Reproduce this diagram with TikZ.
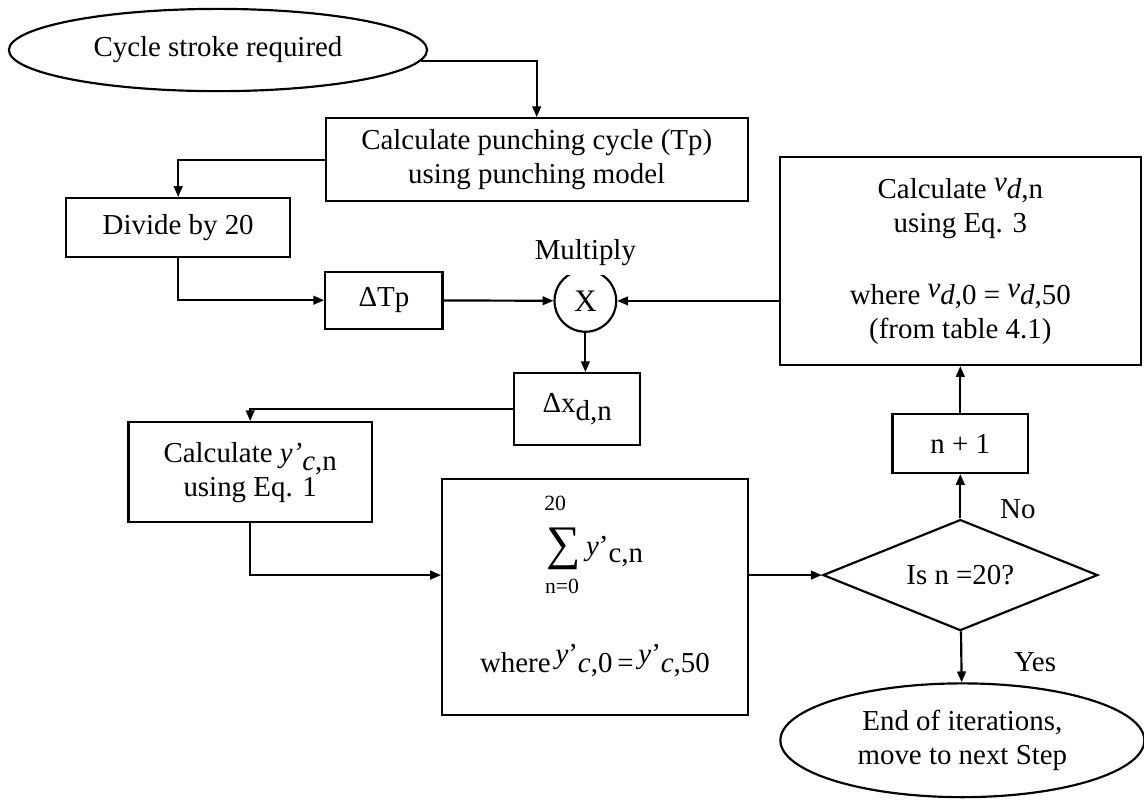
\documentclass[tikz,border=0pt]{standalone}
\usepackage{fontspec}
\setmainfont{Liberation Serif}
\usetikzlibrary{shapes.geometric,positioning,arrows.meta}

\begin{document}
\begin{tikzpicture}[
  procbox/.style={rectangle,draw,line width=0.9pt,font=\fontsize{12}{14}\selectfont,
                  align=center,inner sep=0pt},
  termbox/.style={ellipse,draw,line width=0.9pt,font=\fontsize{12}{14}\selectfont,
                  align=center,inner sep=0pt},
  decbox/.style={diamond,draw,line width=0.9pt,font=\fontsize{12}{14}\selectfont,
                 inner sep=0pt,aspect=2.5},
  opcircle/.style={circle,draw,line width=0.9pt,font=\fontsize{13}{14}\selectfont,
                   inner sep=0pt,minimum size=0.9cm},
  txt/.style={font=\fontsize{12}{14}\selectfont,align=center,inner sep=1pt},
  small/.style={font=\fontsize{9}{10}\selectfont,inner sep=1pt},
  arr/.style={-{Triangle[length=4.5pt,width=3.6pt]},line width=0.9pt},
]
\useasboundingbox (0,0) rectangle (16.69,-11.67);

% Start
\node[termbox,minimum width=6.10cm,minimum height=1.20cm] (start) at (3.18,-0.73)
  {Cycle stroke required};

% Punching cycle
\node[procbox,minimum width=6.16cm,minimum height=1.21cm] (punch) at (7.83,-2.33)
  {Calculate punching cycle (Tp)\\using punching model};

% Divide
\node[procbox,minimum width=3.27cm,minimum height=0.86cm] (divide) at (2.60,-3.32)
  {Divide by 20};

% Delta Tp
\node[procbox,minimum width=1.71cm,minimum height=0.83cm] (dtp) at (5.60,-4.38)
  {ΔTp};

% Multiply
\node[opcircle] (mult) at (8.54,-4.39) {X};
\node[txt,fill=white,inner sep=4pt] (multlbl) at (8.54,-3.68) {Multiply};

% Delta x
\node[procbox,minimum width=1.84cm,minimum height=1.05cm] (dx) at (8.42,-5.97)
  {Δx\raisebox{-0.3em}{d,n}};

% Calculate y'
\node[procbox,minimum width=3.55cm,minimum height=1.46cm] (calcy) at (3.65,-6.89)
  {Calculate \textit{y’}\raisebox{-0.3em}{\textit{c},n}\\using Eq. 1};

% Sum
\node[procbox,minimum width=4.46cm,minimum height=3.44cm] (sum) at (8.68,-8.71) {};
\node[small] (sumtop) at (8.10,-7.35) {20};
\node[txt] (sumsig) at (8.68,-8.00)
  {\raisebox{0.12em}{\fontsize{20}{20}\selectfont ∑}\,\raisebox{0.25em}{\textit{y}’}c,n};
\node[small] (sumbot) at (8.20,-8.56) {n=0};
\node[txt] (sumwhere) at (8.68,-9.64)
  {where\,\raisebox{0.3em}{\textit{y}’}\textit{c},0\,=\,\raisebox{0.3em}{\textit{y}’}\textit{c},50};

% Decision
\node[decbox,minimum width=4.01cm,minimum height=1.62cm] (dia) at (14.01,-8.39)
  {Is n =20?};
\node[txt] (no) at (14.85,-7.43) {No};
\node[txt] (yes) at (15.10,-9.66) {Yes};

% n + 1
\node[procbox,minimum width=1.98cm,minimum height=0.86cm] (np1) at (14.01,-6.47)
  {n + 1};

% Calculate v
\node[procbox,minimum width=5.27cm,minimum height=3.03cm] (vd) at (14.01,-3.81)
  {Calculate \raisebox{0.25em}{\textit{v}}\textit{d},n\\using Eq. 3\\[16pt]
   where \raisebox{0.25em}{\textit{v}}\textit{d},0 = \raisebox{0.25em}{\textit{v}}\textit{d},50\\
   (from table 4.1)};

% End
\node[termbox,minimum width=5.31cm,minimum height=1.66cm] (end) at (14.04,-10.80)
  {End of iterations,\\move to next Step};

% Arrows
\draw[arr] (start.-3) -| (punch.north);
\draw[arr] (punch.west) -| (divide.north);
\draw[arr] (divide.south) |- (dtp.west);
\draw[arr] (dtp) -- (mult);
\draw[arr] (vd.west |- mult) -- (mult);
\draw[arr] (mult) -- (mult |- dx.north);
\draw[arr] (dx.west) -| (calcy.north);
\draw[arr] (calcy.south) |- (sum.west |- dia);
\draw[arr] (sum.east |- dia) -- (dia);
\draw[arr] (dia) -- (np1);
\draw[arr] (np1) -- (vd);
\draw[arr] (dia) -- (end);

\end{tikzpicture}
\end{document}
